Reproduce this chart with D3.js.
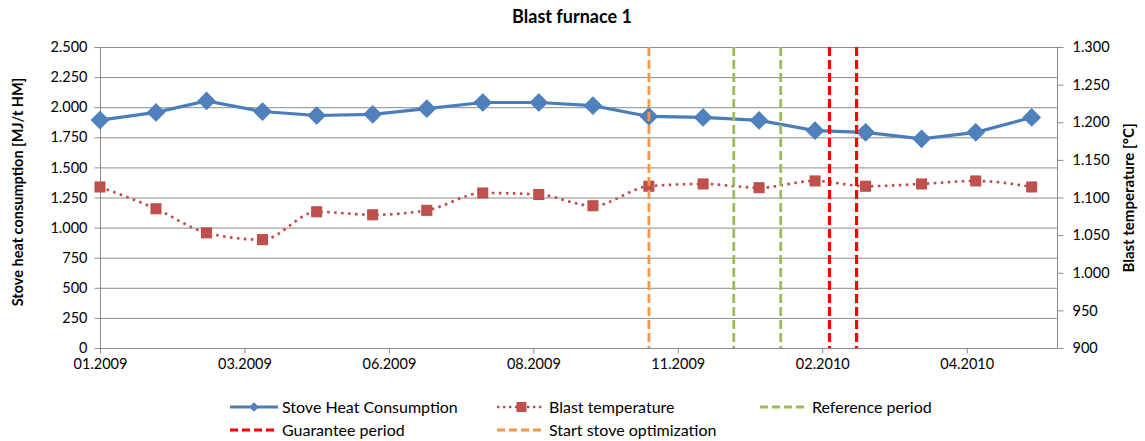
<!DOCTYPE html>
<html>
<head>
<meta charset="utf-8">
<script src="https://cdn.jsdelivr.net/npm/d3@7"></script>
<style>
  body { margin: 0; background: #fff; }
  text { font-family: Lato, "Open Sans", sans-serif; fill: #000; }
</style>
</head>
<body>
<script>
const months = ["2009-01-01", "2009-02-01", "2009-03-01", "2009-04-01", "2009-05-01", "2009-06-01",
    "2009-07-01", "2009-08-01", "2009-09-01", "2009-10-01", "2009-11-01", "2009-12-01",
    "2010-01-01", "2010-02-01", "2010-03-01", "2010-04-01", "2010-05-01", "2010-06-01"];
const heatConsumption = [1893, 1957, 2052, 1964, 1931, 1941, 1988, 2039, 2039, 2013, 1923, 1915,
    1890, 1805, 1791, 1737, 1791, 1915];
const blastTemperature = [1114, 1085, 1053, 1044, 1081, 1077, 1083, 1106, 1104, 1089, 1115, 1118,
    1113, 1122, 1115, 1118, 1122, 1114];
const xTickDates = ["2009-01-01", "2009-03-22", "2009-06-10", "2009-08-29", "2009-11-17", "2010-02-05", "2010-04-26"];
const leftTicks = [0, 250, 500, 750, 1000, 1250, 1500, 1750, 2000, 2250, 2500];
const rightTicks = [900, 950, 1000, 1050, 1100, 1150, 1200, 1250, 1300];
const markers = [
    { name: "Start stove optimization", date: "2009-11-01", color: "#F79646" },
    { name: "Reference period", date: "2009-12-18", color: "#9BBB59" },
    { name: "Reference period", date: "2010-01-13", color: "#9BBB59" },
    { name: "Guarantee period", date: "2010-02-09", color: "#FF0000" },
    { name: "Guarantee period", date: "2010-02-24", color: "#FF0000" }
];

const parse = d3.timeParse("%Y-%m-%d");
function dotted(v) { return d3.format(",")(v).replace(/,/g, "."); }

const W = 1145, H = 441;
const pLeft = 100, pRight = 1057, pTop = 47, pBottom = 348;

let svg = d3.select("body").append("svg").attr("width", W).attr("height", H);

let x = d3.scaleTime().domain([parse("2009-01-01"), parse("2010-06-15")]).range([pLeft, pRight]);
let yL = d3.scaleLinear().domain([0, 2500]).range([pBottom, pTop]);
let yR = d3.scaleLinear().domain([900, 1300]).range([pBottom, pTop]);

// gridlines
svg.append("g").selectAll("line").data(leftTicks).enter().append("line")
    .attr("x1", pLeft).attr("x2", pRight)
    .attr("y1", d => yL(d) + 0.5).attr("y2", d => yL(d) + 0.5)
    .attr("stroke", "#8c8c8c").attr("stroke-width", 1);

// axes
let axL = svg.append("g").attr("transform", `translate(${pLeft + 0.5},0)`)
    .call(d3.axisLeft(yL).tickValues(leftTicks).tickSize(6).tickPadding(7).tickFormat(dotted));
let axR = svg.append("g").attr("transform", `translate(${pRight + 0.5},0)`)
    .call(d3.axisRight(yR).tickValues(rightTicks).tickSize(6).tickPadding(9).tickFormat(dotted));
let axX = svg.append("g").attr("transform", `translate(0,${pBottom + 0.5})`)
    .call(d3.axisBottom(x).tickValues(xTickDates.map(parse)).tickSize(5).tickPadding(5)
        .tickFormat(d3.timeFormat("%m.%Y")));
[axL, axR, axX].forEach(a => {
    a.selectAll("path.domain").attr("stroke", "#8c8c8c");
    a.selectAll(".tick line").attr("stroke", "#8c8c8c");
    a.selectAll(".tick text").style("font-size", "14.5px").attr("fill", "#000");
});
axL.selectAll("path.domain").attr("d", `M0,${pTop}V${pBottom}`);
axR.selectAll("path.domain").attr("d", `M0,${pTop}V${pBottom}`);
axX.selectAll("path.domain").attr("d", `M${pLeft},0H${pRight}`);

// series
let heat = months.map((m, i) => ({ date: parse(m), v: heatConsumption[i] }));
let temp = months.map((m, i) => ({ date: parse(m), v: blastTemperature[i] }));

svg.append("path").datum(heat)
    .attr("d", d3.line().x(d => x(d.date)).y(d => yL(d.v)))
    .attr("fill", "none").attr("stroke", "#4A7EBB").attr("stroke-width", 3.2);
svg.append("g").selectAll("path").data(heat).enter().append("path")
    .attr("d", d3.symbol(d3.symbolSquare, 150))
    .attr("transform", d => `translate(${x(d.date)},${yL(d.v)}) rotate(45)`)
    .attr("fill", "#4F81BD").attr("stroke", "#4A7EBB");

svg.append("path").datum(temp)
    .attr("d", d3.line().curve(d3.curveMonotoneX).x(d => x(d.date)).y(d => yR(d.v)))
    .attr("fill", "none").attr("stroke", "#BE4B48").attr("stroke-width", 2.6)
    .attr("stroke-dasharray", "2.6,4.4");
svg.append("g").selectAll("rect").data(temp).enter().append("rect")
    .attr("x", d => x(d.date) - 5).attr("y", d => yR(d.v) - 5)
    .attr("width", 10).attr("height", 10)
    .attr("fill", "#C0504D").attr("stroke", "#B94A47");

// vertical period lines
svg.append("g").selectAll("line").data(markers).enter().append("line")
    .attr("x1", d => x(parse(d.date))).attr("x2", d => x(parse(d.date)))
    .attr("y1", pTop).attr("y2", pBottom)
    .attr("stroke", d => d.color)
    .attr("stroke-width", d => d.color === "#FF0000" ? 3.2 : 2.8)
    .attr("stroke-dasharray", "9,4");

// titles
svg.append("text").attr("x", 572).attr("y", 23).attr("text-anchor", "middle")
    .style("font-size", "18px").style("font-weight", "bold").text("Blast furnace 1");
svg.append("text").attr("transform", "translate(23,192) rotate(-90)").attr("text-anchor", "middle")
    .style("font-size", "14.5px").style("font-weight", "bold").text("Stove heat consumption [MJ/t HM]");
svg.append("text").attr("transform", "translate(1134,198) rotate(-90)").attr("text-anchor", "middle")
    .style("font-size", "15px").style("font-weight", "bold").text("Blast temperature [°C]");

// legend
const legendItems = [
    { name: "Stove Heat Consumption", col: 0, row: 0, type: "heat" },
    { name: "Blast temperature", col: 1, row: 0, type: "temp" },
    { name: "Reference period", col: 2, row: 0, type: "dash", color: "#9BBB59" },
    { name: "Guarantee period", col: 0, row: 1, type: "dash", color: "#FF0000" },
    { name: "Start stove optimization", col: 1, row: 1, type: "dash", color: "#F79646" }
];
const colX = [230, 497, 760];
const rowY = [407, 430];
let lg = svg.append("g").selectAll("g").data(legendItems).enter().append("g")
    .attr("transform", d => `translate(${colX[d.col]},${rowY[d.row]})`);
lg.each(function (d) {
    let g = d3.select(this);
    if (d.type === "heat") {
        g.append("line").attr("x1", 0).attr("x2", 48).attr("stroke", "#4A7EBB").attr("stroke-width", 3);
        g.append("path").attr("d", d3.symbol(d3.symbolSquare, 45)).attr("transform", "translate(24,0) rotate(45)")
            .attr("fill", "#4F81BD");
    } else if (d.type === "temp") {
        g.append("line").attr("x1", 0).attr("x2", 48).attr("stroke", "#BE4B48").attr("stroke-width", 2.4)
            .attr("stroke-dasharray", "2.4,3.6");
        g.append("rect").attr("x", 19.5).attr("y", -5).attr("width", 10).attr("height", 10).attr("fill", "#C0504D");
    } else {
        g.append("line").attr("x1", 0).attr("x2", 48).attr("stroke", d.color).attr("stroke-width", 3)
            .attr("stroke-dasharray", "8,4");
    }
    g.append("text").attr("x", 52).attr("y", 5.5).style("font-size", "16px").text(d.name);
});
</script>
</body>
</html>
